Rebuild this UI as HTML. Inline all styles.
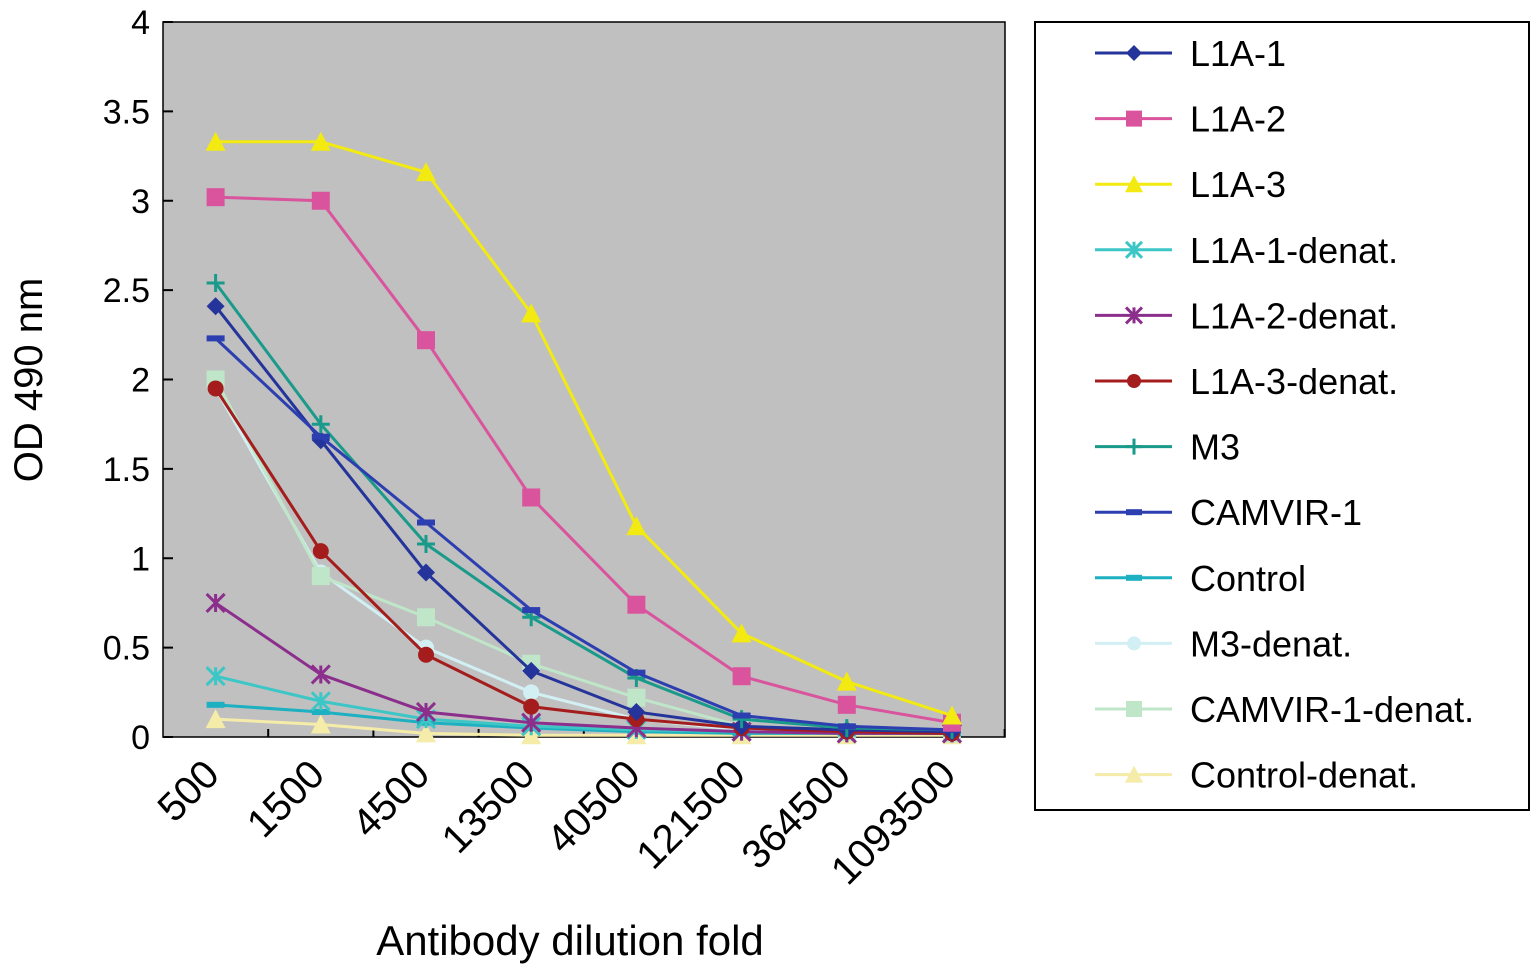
<!DOCTYPE html>
<html><head><meta charset="utf-8"><style>
html,body{margin:0;padding:0;background:#fff;}
svg{display:block;font-family:"Liberation Sans",Arial,sans-serif;}
</style></head><body>
<svg id="chart" width="1534" height="980" viewBox="0 0 1534 980">
<rect x="163" y="22" width="842" height="715" fill="#c0c0c0" stroke="#000" stroke-width="1.5"/>
<g id="axes"></g>
<g id="series"></g>
<text x="42" y="380" font-size="40" text-anchor="middle" transform="rotate(-90 42 380)">OD 490 nm</text>
<text x="570" y="955" font-size="42" text-anchor="middle">Antibody dilution fold</text>
<rect x="1035" y="22" width="494" height="788" fill="#fff" stroke="#000" stroke-width="2"/>
<g id="legend"></g>
</svg>
<script>
const categories=["500","1500","4500","13500","40500","121500","364500","1093500"];
const yTicks=[0,0.5,1,1.5,2,2.5,3,3.5,4];
const yTickLabels=["0","0.5","1","1.5","2","2.5","3","3.5","4"];
const seriesNames=["L1A-1","L1A-2","L1A-3","L1A-1-denat.","L1A-2-denat.","L1A-3-denat.","M3","CAMVIR-1","Control","M3-denat.","CAMVIR-1-denat.","Control-denat."];
const sL1A1=[2.41,1.66,0.92,0.37,0.14,0.06,0.04,0.03];
const sL1A2=[3.02,3.0,2.22,1.34,0.74,0.34,0.18,0.08];
const sL1A3=[3.33,3.33,3.16,2.37,1.18,0.58,0.31,0.12];
const sL1A1d=[0.34,0.2,0.1,0.06,0.04,0.03,0.02,0.02];
const sL1A2d=[0.75,0.35,0.14,0.08,0.05,0.03,0.02,0.02];
const sL1A3d=[1.95,1.04,0.46,0.17,0.1,0.05,0.03,0.02];
const sM3=[2.54,1.75,1.08,0.67,0.33,0.1,0.05,0.04];
const sCAM=[2.23,1.68,1.2,0.71,0.36,0.12,0.06,0.04];
const sCtrl=[0.18,0.14,0.08,0.05,0.03,0.02,0.02,0.02];
const sM3d=[1.95,0.92,0.5,0.25,0.1,0.04,0.03,0.02];
const sCAMd=[2.0,0.9,0.67,0.41,0.22,0.06,0.03,0.02];
const sCtrld=[0.1,0.07,0.02,0.01,0.01,0.01,0.01,0.01];
const allSeries=[sL1A1,sL1A2,sL1A3,sL1A1d,sL1A2d,sL1A3d,sM3,sCAM,sCtrl,sM3d,sCAMd,sCtrld];
const colors=["#25349a","#d9549d","#f2ea10","#3cc6c6","#8c2f8c","#a41c1c","#1a9a8a","#2c3eb0","#1cb0c0","#d2f0f4","#bfe6c8","#f4eca8"];
const markers=["diamond","square","triangle","star","star","circle","plus","dash","dash","circle","square","triangle"];
const NS="http://www.w3.org/2000/svg";
const x0=163,bw=105.2,yBase=737,yTop=22,yMax=4;
function xS(i){return x0+bw*(i+0.5);}
function yS(v){return yBase-(v/yMax)*(yBase-yTop);}
function mk(tag,attrs,parent){const e=document.createElementNS(NS,tag);for(const k in attrs)e.setAttribute(k,attrs[k]);parent.appendChild(e);return e;}
const axes=document.getElementById('axes');
yTicks.forEach((t,i)=>{
  const y=yS(t);
  const tk=mk('line',{x1:x0,x2:x0+10,y1:y,y2:y,stroke:'#000','stroke-width':2},axes);
  
  
  const tx=mk('text',{x:150,y:y+12,'font-size':34,'text-anchor':'end'},axes);
  tx.textContent=yTickLabels[i];
  
  
});
categories.forEach((c,i)=>{
  const xe=x0+bw*(i+1);
  const tk=mk('line',{x1:xe,x2:xe,y1:yBase,y2:yBase-8,stroke:'#000','stroke-width':2},axes);
  
  
  const xc=xS(i)-14,yc=yBase+20;
  const tx=mk('text',{x:xc,y:yc+28,'font-size':40,'text-anchor':'end',transform:`rotate(-45 ${xc} ${yc})`},axes);
  tx.textContent=c;
  
  
});
function marker(type,x,y,col,g,s){
  s=s||9;
  let e;
  if(type==='diamond')e=mk('polygon',{points:`${x},${y-s} ${x+s},${y} ${x},${y+s} ${x-s},${y}`,fill:col},g);
  else if(type==='square')e=mk('rect',{x:x-s,y:y-s,width:2*s,height:2*s,fill:col},g);
  else if(type==='triangle')e=mk('polygon',{points:`${x},${y-s-1} ${x+s+1},${y+s} ${x-s-1},${y+s}`,fill:col},g);
  else if(type==='circle')e=mk('circle',{cx:x,cy:y,r:s-1,fill:col},g);
  else if(type==='star')e=mk('path',{d:`M${x-s},${y-s}L${x+s},${y+s}M${x+s},${y-s}L${x-s},${y+s}M${x},${y-s}L${x},${y+s}`,stroke:col,'stroke-width':3},g);
  else if(type==='plus')e=mk('path',{d:`M${x-s},${y}L${x+s},${y}M${x},${y-s}L${x},${y+s}`,stroke:col,'stroke-width':3},g);
  else e=mk('rect',{x:x-s,y:y-3,width:2*s,height:6,fill:col},g);
  return e;
}
const sg=document.getElementById('series');
const order=[11,9,10,8,3,4,5,0,6,7,1,2];
order.forEach(k=>{
  const data=allSeries[k];
  const g=mk('g',{},sg);
  
  
  const pts=data.map((v,i)=>xS(i)+','+yS(v)).join(' ');
  const ln=mk('polyline',{points:pts,fill:'none',stroke:colors[k],'stroke-width':3},g);
  
  
  data.forEach((v,i)=>{
    const m=marker(markers[k],xS(i),yS(v),colors[k],g);
    
    
  });
});
const lg=document.getElementById('legend');
seriesNames.forEach((n,k)=>{
  const y=53+k*65.6;
  const g=mk('g',{},lg);
  
  
  mk('line',{x1:1095,x2:1172,y1:y,y2:y,stroke:colors[k],'stroke-width':3},g);
  marker(markers[k],1134,y,colors[k],g,8);
  const t=mk('text',{x:1190,y:y+13,'font-size':36},g);
  t.textContent=n;
});
</script>
</body></html>
